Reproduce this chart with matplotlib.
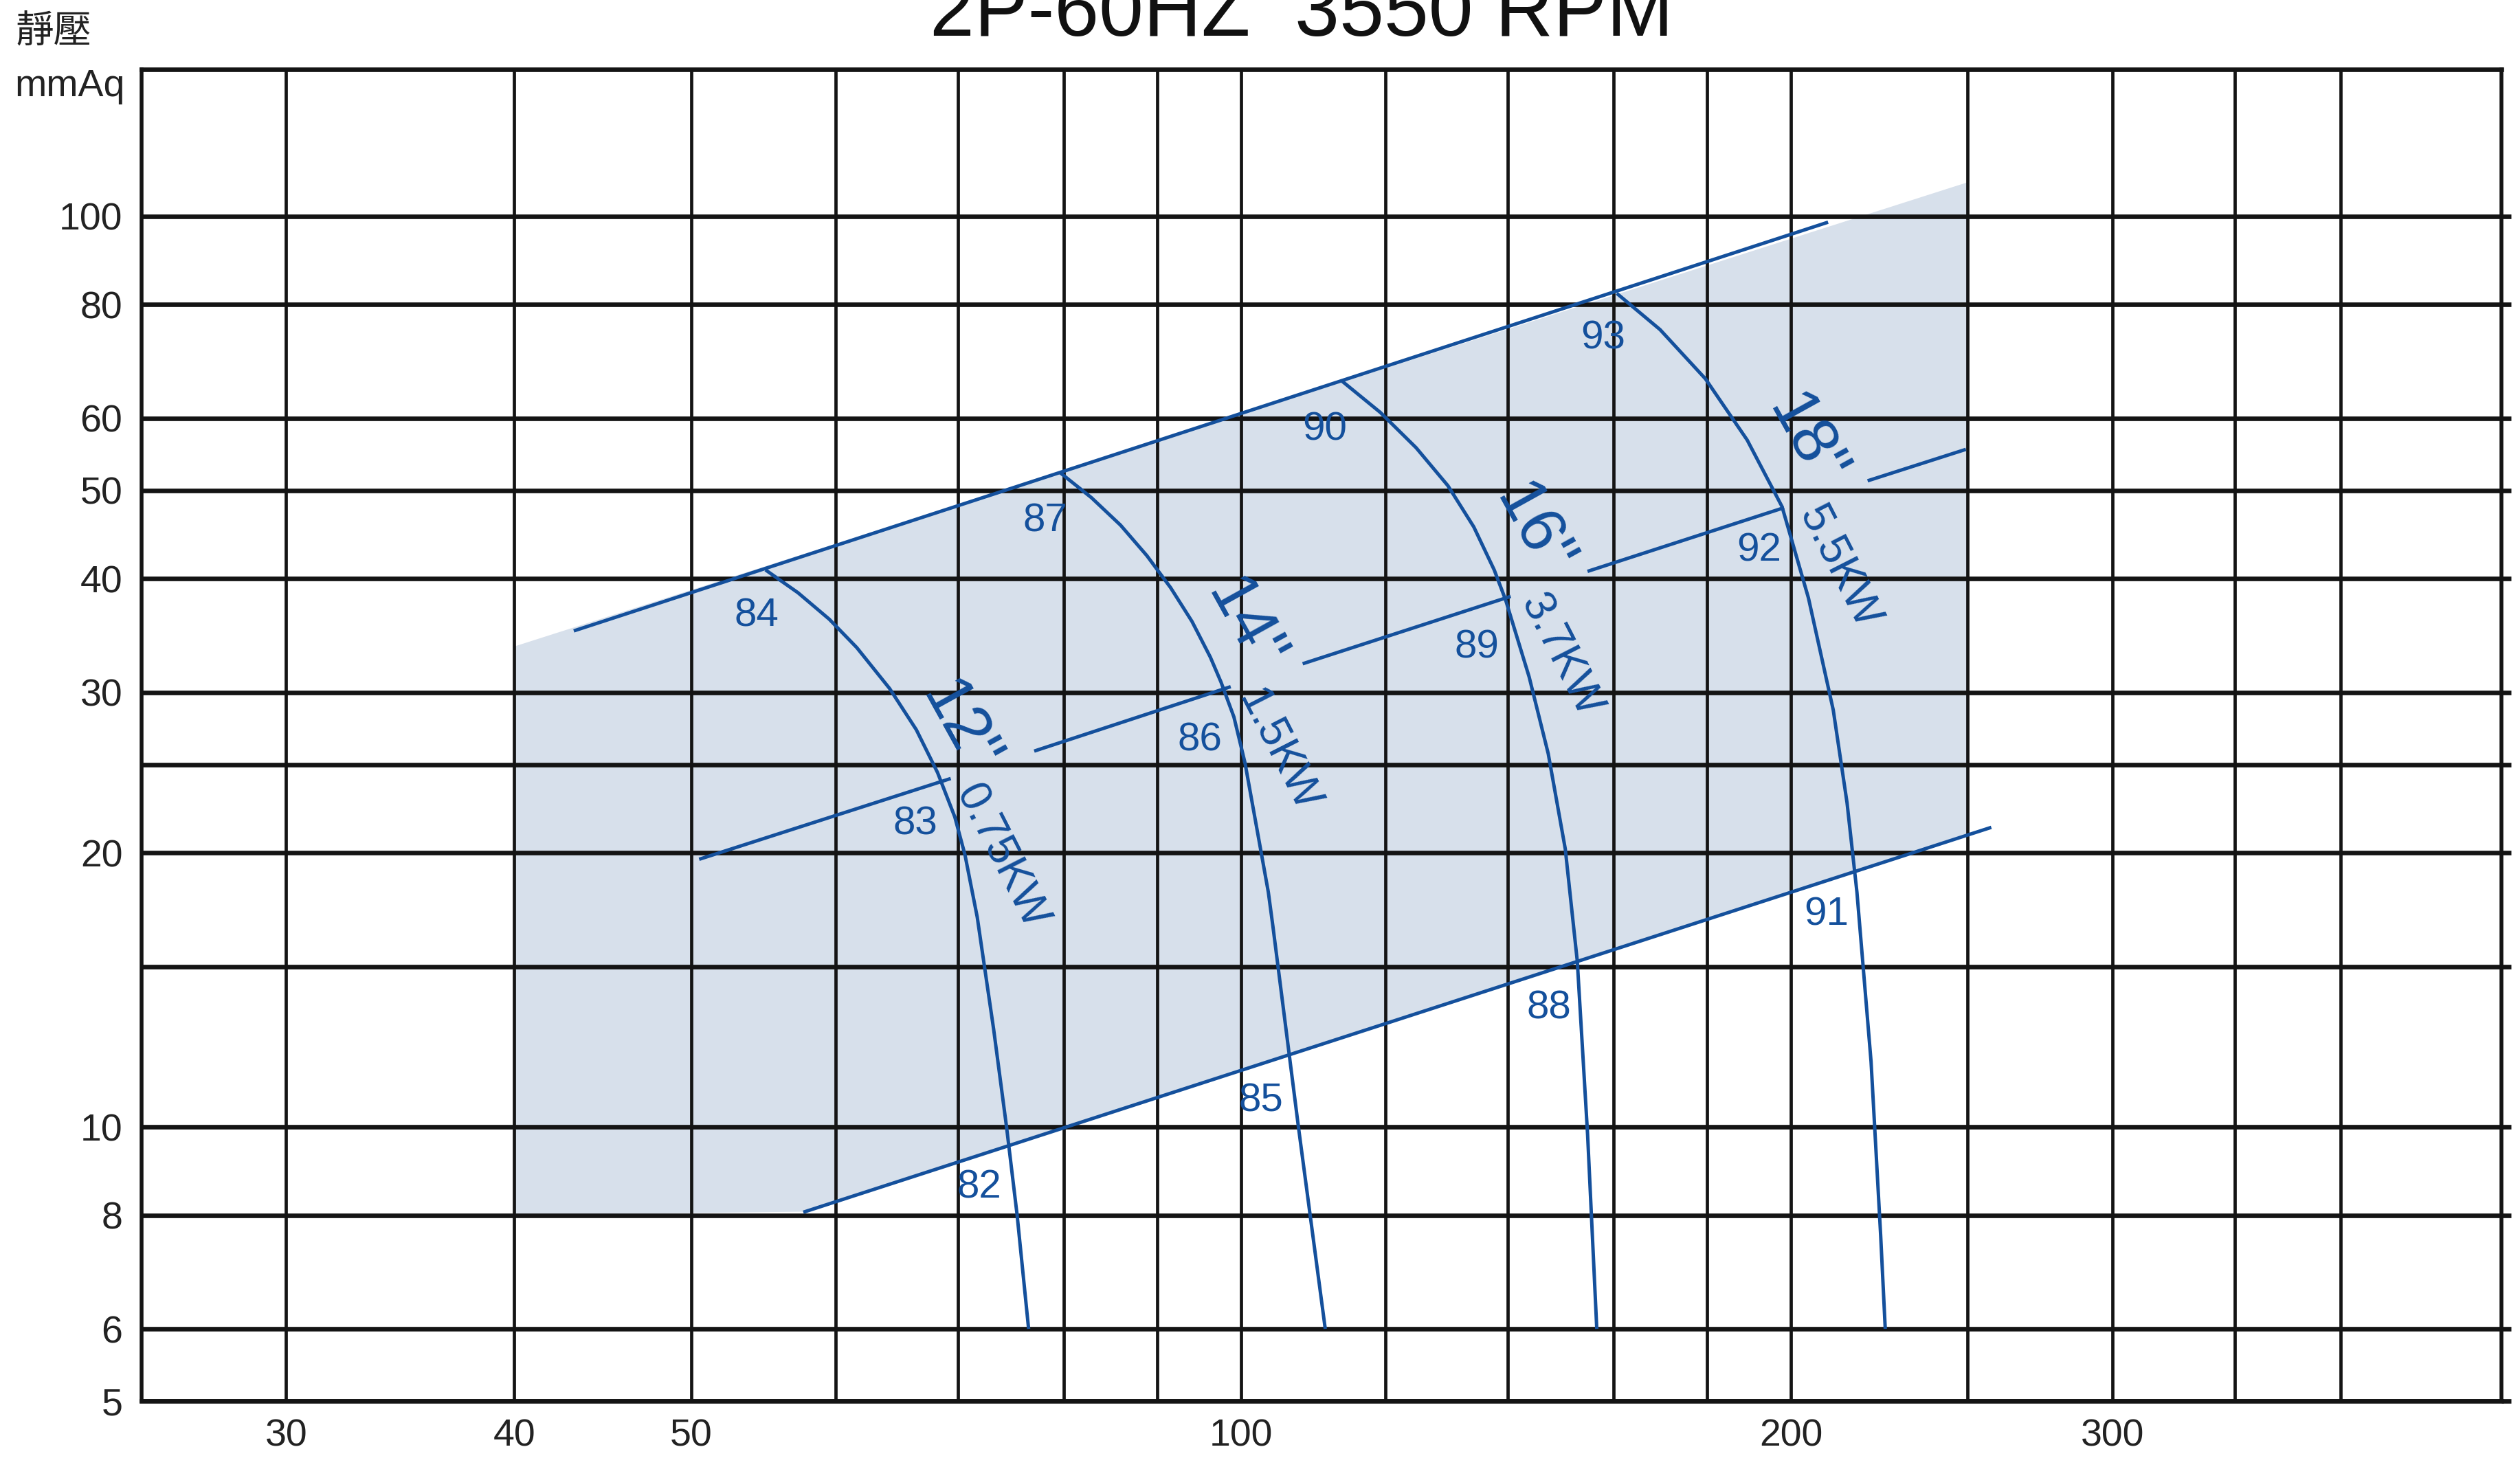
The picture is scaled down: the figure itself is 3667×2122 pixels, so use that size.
import matplotlib
matplotlib.use("Agg")
import matplotlib.pyplot as plt
from matplotlib.ticker import FixedLocator, NullFormatter, FixedFormatter

plt.rcParams['font.family'] = ['Liberation Sans', 'Noto Sans CJK TC', 'DejaVu Sans']

# ---------------- data ----------------
title = "2P-60HZ  3550 RPM"
y_label_top = "靜壓"
y_label_unit = "mmAq"

x_ticks = [30, 40, 50, 100, 200, 300]
x_minor = [60, 70, 80, 90, 120, 140, 160, 180, 250, 350, 400]
y_ticks = [5, 6, 8, 10, 20, 30, 40, 50, 60, 80, 100]
y_minor = [15, 25]

# fan curves (air volume, static pressure)
q12 = [54.9, 57.2, 59.5, 61.6, 64.2, 66.4, 68.2, 69.7, 70.6, 71.7, 73.2, 74.4, 75.4, 76.5]
p12 = [40.9, 38.6, 36.1, 33.6, 30.3, 27.3, 24.5, 21.9, 19.9, 17.0, 12.8, 10.0, 8.0, 6.0]
q14 = [79.6, 82.8, 85.9, 88.8, 91.5, 94.0, 96.2, 97.5, 99.1, 100.5, 103.5, 104.1, 107.5, 111.2]
p14 = [52.3, 49.1, 45.8, 42.4, 39.1, 35.9, 32.8, 30.8, 28.2, 25.1, 18.1, 16.6, 10.0, 6.0]
q16 = [113.6, 119.2, 124.7, 129.8, 134.1, 137.6, 139.6, 143.8, 147.3, 150.5, 152.8, 154.8, 156.6]
p16 = [65.9, 60.9, 55.7, 50.6, 45.6, 40.9, 37.9, 31.2, 25.7, 20.2, 15.2, 9.8, 6.0]
q18 = [160.6, 169.6, 179.6, 189.3, 197.8, 204.5, 211.0, 214.7, 217.4, 221.3, 224.0, 225.3]
p18 = [82.3, 75.1, 66.3, 56.8, 48.0, 38.1, 28.7, 22.7, 18.1, 11.8, 7.6, 6.0]

sizes = ['12"', '14"', '16"', '18"']
powers = ['0.75KW', '1.5KW', '3.7KW', '5.5KW']

# efficiency lines
upper_q = [43.2, 209.2]
upper_p = [35.1, 98.4]
lower_q = [57.7, 257.0]
lower_p = [8.07, 21.3]
mid_q = [[50.6, 69.2], [77.2, 98.5], [108.3, 140.2], [155.1, 197.9], [220.8, 248.9]]
mid_p = [[19.7, 24.1], [25.9, 30.4], [32.3, 38.2], [40.8, 47.8], [51.3, 55.4]]

# shaded selection region
area_q = [40, 250, 250, 57.7, 40]
area_p = [33.7, 109, 20.9, 8.07, 8.0]

# efficiency numbers
eff_labels = ['84', '87', '90', '93', '83', '86', '89', '92', '82', '85', '88', '91']
eff_q = [54.3, 78.1, 111.1, 157.9, 66.3, 94.9, 134.6, 192.1, 71.9, 102.5, 147.4, 209.2]
eff_p = [36.4, 46.3, 58.3, 73.5, 21.5, 26.6, 33.6, 42.9, 8.57, 10.67, 13.5, 17.1]

# curve labels
size_q = [70.0, 100.3, 144.4, 203.6]
size_p = [27.4, 35.5, 45.2, 56.6]
power_q = [73.9, 104.8, 149.6, 212.6]
power_p = [19.8, 25.9, 32.9, 41.2]

# ---------------- drawing ----------------
BLUE = '#14509c'
SHADE = '#d7e0eb'
INK = '#141414'

fig = plt.figure(figsize=(3667 / 200, 2122 / 200), dpi=200)
ax = fig.add_axes([0.0562, 0.0391, 0.99264 - 0.0562, 0.9524 - 0.0391])
ax.set_xscale('log')
ax.set_yscale('log')
ax.set_xlim(25, 490)
ax.set_ylim(5, 145)

ax.fill(area_q, area_p, color=SHADE, lw=0, zorder=0.2)

ax.xaxis.set_major_locator(FixedLocator(x_ticks))
ax.xaxis.set_major_formatter(FixedFormatter([str(v) for v in x_ticks]))
ax.xaxis.set_minor_locator(FixedLocator(x_minor))
ax.xaxis.set_minor_formatter(NullFormatter())
ax.yaxis.set_major_locator(FixedLocator(y_ticks))
ax.yaxis.set_major_formatter(FixedFormatter([str(v) for v in y_ticks]))
ax.yaxis.set_minor_locator(FixedLocator(y_minor))
ax.yaxis.set_minor_formatter(NullFormatter())

ax.set_axisbelow(True)
ax.xaxis.grid(True, which='both', color=INK, lw=1.7)
ax.yaxis.grid(True, which='both', color=INK, lw=2.4)

ax.tick_params(axis='x', which='both', length=0, labelsize=20, pad=9, labelcolor='#222222')
ax.tick_params(axis='y', which='both', left=False, right=True, direction='out',
               length=5, width=2.4, color=INK, labelsize=20, pad=5, labelcolor='#222222')
for s in ax.spines.values():
    s.set_linewidth(2.4)
    s.set_color(INK)
ax.spines['left'].set_linewidth(2.0)
ax.spines['right'].set_linewidth(2.0)

lw = 1.8
for q, p in [(q12, p12), (q14, p14), (q16, p16), (q18, p18)]:
    ax.plot(q, p, color=BLUE, lw=lw, solid_joinstyle='round', solid_capstyle='butt', zorder=3)
ax.plot(upper_q, upper_p, color=BLUE, lw=lw, zorder=3)
ax.plot(lower_q, lower_p, color=BLUE, lw=lw, zorder=3)
for q, p in zip(mid_q, mid_p):
    ax.plot(q, p, color=BLUE, lw=lw, zorder=3)

for t, q, p in zip(eff_labels, eff_q, eff_p):
    ax.text(q, p, t, color=BLUE, fontsize=21, ha='center', va='center', zorder=4)

for t, q, p in zip(sizes, size_q, size_p):
    ax.text(q, p, t, color=BLUE, fontsize=34, ha='center', va='center',
            rotation=-61, rotation_mode='anchor', zorder=4)
for t, q, p in zip(powers, power_q, power_p):
    ax.text(q, p, t, color=BLUE, fontsize=23, ha='center', va='center',
            rotation=-63, rotation_mode='anchor', zorder=4)

fig.text(0.5165, 0.9755, title, fontsize=42, ha='center', va='baseline', color='#111111')
fig.text(0.0060, 0.9915, y_label_top, fontsize=20, ha='left', va='top', color='#222222',
         family=['Noto Sans CJK TC', 'DejaVu Sans'])
fig.text(0.0057, 0.934, y_label_unit, fontsize=20, ha='left', va='baseline', color='#222222')

fig.savefig('out.png', dpi=200, facecolor='white')
